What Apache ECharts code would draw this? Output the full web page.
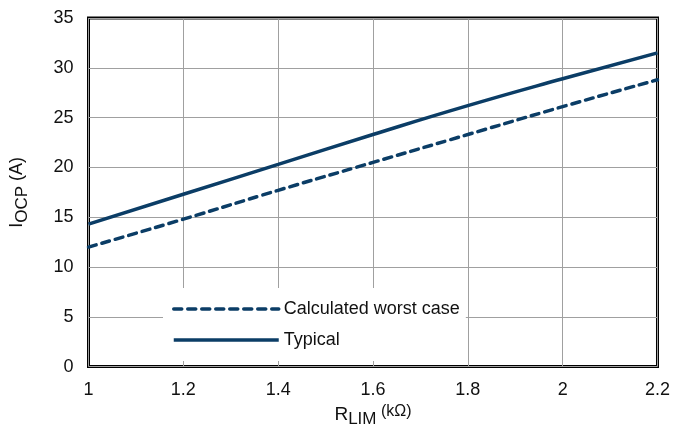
<!DOCTYPE html>
<html>
<head>
<meta charset="utf-8">
<script src="https://cdn.jsdelivr.net/npm/echarts@6/dist/echarts.min.js"></script>
<style>
  html, body { margin: 0; padding: 0; background: #fff; }
  #chart { width: 673px; height: 433px; }
</style>
</head>
<body>
<div id="chart"></div>
<script>
  // R_LIM (kOhm)
  var rLim = [1, 1.2, 1.4, 1.6, 1.8, 2.0, 2.2];
  // I_OCP (A)
  var typical = [14.3, 17.3, 20.3, 23.3, 26.2, 28.9, 31.5];
  var worstCase = [12.0, 14.8, 17.7, 20.5, 23.3, 26.1, 28.8];
  var seriesNames = ['Calculated worst case', 'Typical'];

  var font = '"Liberation Sans Narrow", "Liberation Sans", Arial, sans-serif';
  var lineColor = '#0b3d66';

  function pairs(xs, ys) {
    return xs.map(function (x, i) { return [x, ys[i]]; });
  }

  var myChart = echarts.init(document.getElementById('chart'));
  myChart.setOption({
    backgroundColor: '#fff',
    animation: false,
    textStyle: { fontFamily: font },
    grid: {
      left: 88, right: 13, top: 18, bottom: 65,
      show: true,
      borderColor: '#000',
      borderWidth: 3,
      backgroundColor: 'transparent'
    },
    // legend box sits on top of the grid with a white background
    legend: {
      orient: 'vertical',
      left: 163,
      top: 288,
      backgroundColor: '#fff',
      padding: [12, 6, 12, 9],
      itemWidth: 105,
      itemHeight: 14,
      itemGap: 13,
      data: seriesNames,
      itemStyle: { opacity: 0, borderWidth: 0 },
      lineStyle: { width: 3.5 },
      textStyle: { fontFamily: font, fontSize: 18, color: '#111' }
    },
    xAxis: {
      type: 'value',
      min: 1,
      max: 2.2,
      interval: 0.2,
      name: '{big|R}{sub|LIM}{small| (kΩ)}',
      nameLocation: 'middle',
      nameGap: 30,
      nameTextStyle: {
        rich: {
          big: { fontFamily: font, fontSize: 19, color: '#111' },
          sub: { fontFamily: font, fontSize: 17, color: '#111', padding: [10, 0, 0, 0] },
          small: { fontFamily: font, fontSize: 16, color: '#111', padding: [0, 0, 6, 0] }
        }
      },
      axisLine: { show: false },
      axisTick: { show: false },
      splitLine: { show: true, lineStyle: { color: '#a0a0a0', width: 1 } },
      axisLabel: {
        margin: 14,
        fontFamily: font,
        fontSize: 18,
        color: '#111',
        formatter: function (v) { return String(Math.round(v * 10) / 10); }
      }
    },
    yAxis: {
      type: 'value',
      min: 0,
      max: 35,
      interval: 5,
      name: '{big|I}{sub|OCP}{big| (A)}',
      nameLocation: 'middle',
      nameRotate: 90,
      nameGap: 58,
      nameTextStyle: {
        rich: {
          big: { fontFamily: font, fontSize: 18, color: '#111' },
          sub: { fontFamily: font, fontSize: 17, color: '#111', padding: [10, 0, 0, 0] }
        }
      },
      axisLine: { show: false },
      axisTick: { show: false },
      splitLine: { show: true, lineStyle: { color: '#a0a0a0', width: 1 } },
      axisLabel: { margin: 15, fontFamily: font, fontSize: 18, color: '#111' }
    },
    series: [
      {
        name: seriesNames[0],
        type: 'line',
        data: pairs(rLim, worstCase),
        symbol: 'none',
        smooth: true,
        color: lineColor,
        lineStyle: { color: lineColor, width: 3.5, type: [8, 6], cap: 'round' },
        z: 3
      },
      {
        name: seriesNames[1],
        type: 'line',
        data: pairs(rLim, typical),
        symbol: 'none',
        smooth: true,
        color: lineColor,
        lineStyle: { color: lineColor, width: 3.5 },
        z: 3
      }
    ]
  });
</script>
</body>
</html>
